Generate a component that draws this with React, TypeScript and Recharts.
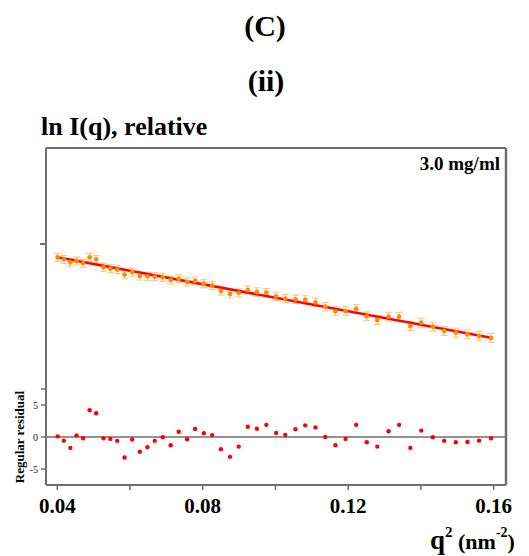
import React from "react";
import {
  ComposedChart,
  Scatter,
  Line,
  XAxis,
  YAxis,
  ErrorBar,
  ReferenceLine,
} from "recharts";

// q^2 (nm^-2) of every measured point
const q2 = [
  0.0401, 0.0418, 0.0436, 0.0453, 0.0471, 0.0489, 0.0507, 0.0527, 0.0546, 0.0565,
  0.0585, 0.0606, 0.0627, 0.0648, 0.0668, 0.069, 0.0712, 0.0734, 0.0757, 0.0779,
  0.0803, 0.0826, 0.085, 0.0875, 0.0899, 0.0924, 0.0949, 0.0975, 0.1002, 0.1027,
  0.1055, 0.1082, 0.111, 0.1137, 0.1165, 0.1193, 0.1222, 0.1251, 0.128, 0.1311,
  0.134, 0.1371, 0.1401, 0.1433, 0.1464, 0.1496, 0.1528, 0.156, 0.1593,
];

// ln I(q), relative
const lnI = [
  -0.133, -0.153, -0.183, -0.17, -0.193, -0.133, -0.153, -0.233, -0.247, -0.257,
  -0.307, -0.28, -0.32, -0.323, -0.327, -0.333, -0.36, -0.347, -0.38, -0.37,
  -0.397, -0.417, -0.47, -0.5, -0.49, -0.46, -0.48, -0.487, -0.523, -0.547,
  -0.553, -0.56, -0.583, -0.627, -0.673, -0.67, -0.65, -0.723, -0.76, -0.727,
  -0.727, -0.82, -0.787, -0.827, -0.87, -0.887, -0.903, -0.92, -0.94,
];

const lnIErr = [
  0.04, 0.04, 0.04, 0.04, 0.04, 0.04, 0.04, 0.04, 0.04, 0.04,
  0.04, 0.04, 0.04, 0.04, 0.04, 0.04, 0.04, 0.04, 0.04, 0.04,
  0.04, 0.04, 0.04, 0.04, 0.04, 0.04, 0.042, 0.042, 0.042, 0.042,
  0.042, 0.042, 0.042, 0.042, 0.044, 0.044, 0.044, 0.044, 0.044, 0.044,
  0.044, 0.045, 0.045, 0.045, 0.045, 0.045, 0.045, 0.046, 0.046,
];

// regular residual of the linear Guinier fit
const residual = [
  0.1, -0.57, -1.7, 0.26, -0.2, 4.17, 3.7, -0.2, -0.3, -0.6,
  -3.2, -0.4, -2.3, -1.6, -0.6, -0.05, -1.3, 0.83, -0.36, 1.25,
  0.6, 0.3, -1.9, -3.1, -1.5, 1.6, 1.3, 1.9, 0.63, 0.31,
  1.2, 1.82, 1.5, 0, -1.3, -0.3, 1.9, -0.83, -1.5, 0.9,
  1.9, -1.7, 1.0, -0.05, -0.6, -0.83, -0.78, -0.57, -0.2,
];

// fitted straight line, end points
const fitQ2 = [0.04, 0.1593];
const fitLnI = [-0.133, -0.937];

const xTicks = [0.04, 0.06, 0.08, 0.1, 0.12, 0.14, 0.16];
const xTickLabels = ["0.04", "", "0.08", "", "0.12", "", "0.16"];
const residTicks = [-5, 0, 5, 7.5];
const residTickLabels = ["-5", "0", "5", ""];

const X_DOMAIN: [number, number] = [0.0369, 0.1634];
const Y_DOMAIN: [number, number] = [-1.45, 0.96];
const R_DOMAIN: [number, number] = [-7.5, 7.5];

const FRAME = "#6f6f6f";
const SERIF = "Liberation Serif, DejaVu Serif, serif";

const points = q2.map((x, i) => ({ x, y: lnI[i], err: lnIErr[i] }));
const fit = fitQ2.map((x, i) => ({ x, y: fitLnI[i] }));
const resid = q2.map((x, i) => ({ x, r: residual[i] }));

const OrangeDot = (p: any) => (
  <circle cx={p.cx} cy={p.cy} r={2.4} fill="#ff8c00" />
);
const RedDot = (p: any) => (
  <circle cx={p.cx} cy={p.cy} r={2.2} fill="#ff0000" />
);

export default function App() {
  return (
    <div
      style={{
        position: "absolute",
        left: 0,
        top: 0,
        width: 529,
        height: 556,
        background: "#fff",
        fontFamily: SERIF,
      }}
    >
      {/* Guinier plot */}
      <div style={{ position: "absolute", left: 0, top: 0 }}>
        <ComposedChart
          width={529}
          height={395}
          margin={{ top: 148, right: 23, bottom: 6, left: 6 }}
        >
          <XAxis
            type="number"
            dataKey="x"
            domain={X_DOMAIN}
            allowDataOverflow
            hide
          />
          <YAxis
            type="number"
            domain={Y_DOMAIN}
            allowDataOverflow
            ticks={[0]}
            tickFormatter={() => ""}
            width={40}
            axisLine={{ stroke: FRAME, strokeWidth: 2 }}
            tickLine={{ stroke: FRAME, strokeWidth: 2 }}
            tickSize={6}
          />
          <ReferenceLine y={Y_DOMAIN[1]} stroke={FRAME} strokeWidth={2} />
          <ReferenceLine x={X_DOMAIN[1]} stroke={FRAME} strokeWidth={2.5} />
          <Scatter
            data={points}
            dataKey="y"
            shape={OrangeDot}
            isAnimationActive={false}
          >
            <ErrorBar
              dataKey="err"
              direction="y"
              width={3.5}
              stroke="#ffbf7a"
              strokeWidth={1}
            />
          </Scatter>
          <Line
            data={fit}
            dataKey="y"
            type="linear"
            stroke="#ff0000"
            strokeWidth={2.5}
            dot={false}
            isAnimationActive={false}
          />
        </ComposedChart>
      </div>

      {/* residual panel */}
      <div style={{ position: "absolute", left: 0, top: 380 }}>
        <ComposedChart
          width={529}
          height={176}
          margin={{ top: 9, right: 23, bottom: 31, left: 6 }}
        >
          <XAxis
            type="number"
            dataKey="x"
            domain={X_DOMAIN}
            allowDataOverflow
            ticks={xTicks}
            tickFormatter={(_v: number, i: number) => xTickLabels[i]}
            height={40}
            axisLine={{ stroke: FRAME, strokeWidth: 2 }}
            tickLine={{ stroke: FRAME, strokeWidth: 1.5 }}
            tickSize={5}
            tickMargin={8}
            tick={{
              fill: "#000",
              fontSize: 21,
              fontWeight: "bold",
              fontFamily: SERIF,
            }}
          />
          <YAxis
            type="number"
            dataKey="r"
            domain={R_DOMAIN}
            allowDataOverflow
            ticks={residTicks}
            tickFormatter={(_v: number, i: number) => residTickLabels[i]}
            width={40}
            axisLine={{ stroke: FRAME, strokeWidth: 2 }}
            tickLine={{ stroke: FRAME, strokeWidth: 1.5 }}
            tickSize={5}
            tickMargin={3}
            tick={{ fill: "#222", fontSize: 10, fontFamily: SERIF }}
          />
          <ReferenceLine x={X_DOMAIN[1]} stroke={FRAME} strokeWidth={2.5} />
          <ReferenceLine y={0} stroke={FRAME} strokeWidth={1.5} />
          <Scatter
            data={resid}
            dataKey="r"
            shape={RedDot}
            isAnimationActive={false}
          />
        </ComposedChart>
      </div>

      {/* titles and axis labels */}
      <svg
        width={529}
        height={556}
        style={{
          position: "absolute",
          left: 0,
          top: 0,
          pointerEvents: "none",
          fontFamily: SERIF,
          fontWeight: "bold",
        }}
      >
        <text x={265} y={36} textAnchor="middle" fontSize={30}>
          (C)
        </text>
        <text x={266} y={91} textAnchor="middle" fontSize={30}>
          (ii)
        </text>
        <text x={41} y={135} fontSize={26}>
          ln I(q), relative
        </text>
        <text x={500} y={170} textAnchor="end" fontSize={19}>
          3.0 mg/ml
        </text>
        <text
          x={19}
          y={437}
          textAnchor="middle"
          dominantBaseline="central"
          fontSize={13}
          transform="rotate(-90, 19, 437)"
        >
          Regular residual
        </text>
        <text x={430} y={549} fontSize={27}>
          q
          <tspan fontSize={15} dy={-12}>
            2
          </tspan>
          <tspan fontSize={22} dy={12}>
            {" (nm"}
          </tspan>
          <tspan fontSize={14} dy={-12}>
            -2
          </tspan>
          <tspan fontSize={22} dy={12}>
            )
          </tspan>
        </text>
      </svg>
    </div>
  );
}
